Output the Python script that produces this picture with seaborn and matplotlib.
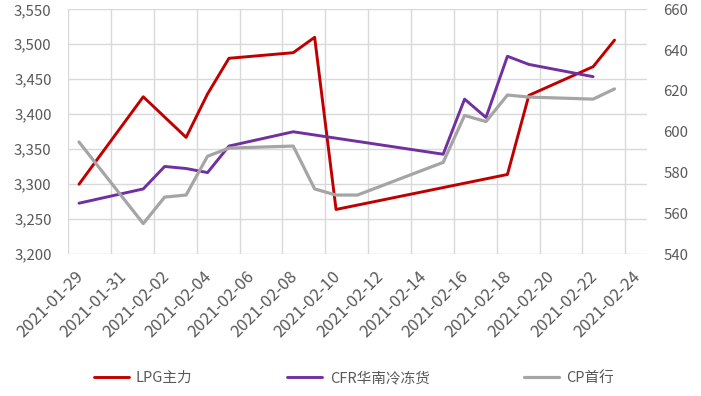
import pandas as pd
import matplotlib
matplotlib.use("Agg")
import matplotlib.pyplot as plt
import matplotlib.transforms as mtransforms
import seaborn as sns
import numpy as np

sns.set_style("white")
plt.rcParams['font.family'] = ['Noto Sans CJK SC', 'DejaVu Sans']

# 数据
dates = ['2021-01-29', '2021-02-01', '2021-02-02', '2021-02-03', '2021-02-04',
         '2021-02-05', '2021-02-08', '2021-02-09', '2021-02-10', '2021-02-11',
         '2021-02-15', '2021-02-16', '2021-02-17', '2021-02-18', '2021-02-19',
         '2021-02-22', '2021-02-23']
lpg = [3300, 3425, np.nan, 3367, 3429, 3480, 3488, 3510, 3264, np.nan,
       np.nan, np.nan, np.nan, 3314, 3427, 3468, 3506]
cfr = [565, 572, 583, 582, 580, 593, 600, np.nan, np.nan, np.nan,
       589, 616, 607, 637, 633, 627, np.nan]
cp = [595, 555, 568, 569, 588, 592, 593, 572, 569, 569,
      585, 608, 605, 618, 617, 616, 621]

series_names = ['LPG主力', 'CFR华南冷冻货', 'CP首行']
colors = ['#C00000', '#7030A0', '#A5A5A5']

df = pd.DataFrame({'date': pd.to_datetime(dates), 'lpg': lpg, 'cfr': cfr, 'cp': cp})

fig = plt.figure(figsize=(7.01, 3.96), dpi=100)
ax = fig.add_axes([0.0974, 0.358, 0.9225 - 0.0974, 0.9765 - 0.358])
ax2 = ax.twinx()

sns.lineplot(data=df, x='date', y='lpg', ax=ax, color=colors[0], lw=2.1, label=series_names[0], legend=False)
sns.lineplot(data=df, x='date', y='cfr', ax=ax2, color=colors[1], lw=2.1, label=series_names[1], legend=False)
sns.lineplot(data=df, x='date', y='cp', ax=ax2, color=colors[2], lw=2.3, label=series_names[2], legend=False)

# 坐标轴
ax.set_ylim(3200, 3550)
ax.set_yticks(range(3200, 3551, 50))
ax.set_yticklabels([f'{v:,}' for v in range(3200, 3551, 50)])
ax2.set_ylim(540, 660)
ax2.set_yticks(range(540, 661, 20))

tick_dates = pd.date_range('2021-01-29', '2021-02-24', freq='2D')
half = pd.Timedelta(hours=12)
ax.set_xlim(pd.Timestamp('2021-01-29') - half, pd.Timestamp('2021-02-25') - half)
ax.set_xticks(tick_dates - half)
ax.set_xticklabels([d.strftime('%Y-%m-%d') for d in tick_dates])

ax.grid(True, color='#D9D9D9', lw=1)
ax.set_axisbelow(True)
for a in (ax, ax2):
    for s in a.spines.values():
        s.set_visible(False)
    a.set_xlabel('')
    a.set_ylabel('')

ax.tick_params(axis='y', length=0, pad=12, labelsize=10.8, labelcolor='#595959')
ax2.tick_params(axis='y', length=0, pad=12, labelsize=10.8, labelcolor='#595959')
ax.tick_params(axis='x', length=5, width=1, color='#D9D9D9', pad=9, labelsize=12, labelcolor='#595959')

offset = mtransforms.ScaledTranslation(9 / 72, 0, fig.dpi_scale_trans)
for lbl in ax.get_xticklabels():
    lbl.set_rotation(45)
    lbl.set_ha('right')
    lbl.set_va('center')
    lbl.set_rotation_mode('anchor')
    lbl.set_transform(lbl.get_transform() + offset)

h1, l1 = ax.get_legend_handles_labels()
h2, l2 = ax2.get_legend_handles_labels()
fig.legend(h1 + h2, l1 + l2, loc='center', bbox_to_anchor=(0.505, 0.045), ncol=3,
           frameon=False, fontsize=10.5, handlelength=2.4, handletextpad=0.5,
           columnspacing=6.5, labelcolor='#595959')

fig.savefig('out.png', dpi=100)
